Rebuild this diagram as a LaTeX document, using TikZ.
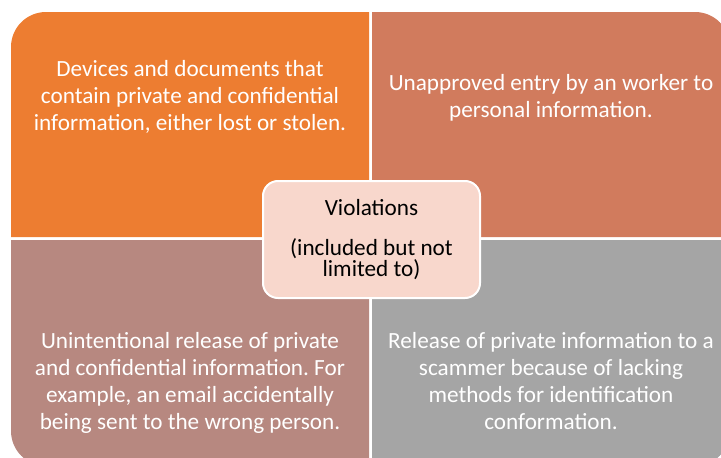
\documentclass[tikz,border=0pt]{standalone}
\usepackage{fontspec}
\setmainfont{Carlito}
\frenchspacing
\usetikzlibrary{positioning}
\definecolor{lostorange}{HTML}{ED7D31}
\definecolor{entrybrown}{HTML}{D17B5D}
\definecolor{releasemauve}{HTML}{B78880}
\definecolor{scammergrey}{HTML}{A5A5A5}
\definecolor{centrepink}{HTML}{F8D7CC}
\tikzset{
	% text in the four quadrants
	quadtext/.style={text=white,align=center,inner sep=0pt,anchor=north,
		font=\fontsize{23.2}{27}\selectfont},
	% the box in the middle
	centrebox/.style={fill=centrepink,draw=white,line width=2pt,rounded corners=15pt,
		minimum width=217pt,minimum height=117pt,align=center,inner sep=0pt,
		font=\fontsize{23.2}{20}\selectfont},
}
\begin{document}
\begin{tikzpicture}[x=1pt,y=1pt]
\useasboundingbox (0,0) rectangle (721,-458);
% the quadrants, each with its outer corner rounded
\fill[lostorange] (11,-237) -- (11,-47) arc[start angle=180,end angle=90,radius=35] -- (369,-12) -- (369,-237) -- cycle;
\fill[entrybrown] (372,-237) -- (372,-12) -- (695,-12) arc[start angle=90,end angle=0,radius=35] -- (730,-237) -- cycle;
\fill[releasemauve] (11,-240) -- (369,-240) -- (369,-466) -- (46,-466) arc[start angle=270,end angle=180,radius=35] -- cycle;
\fill[scammergrey] (372,-240) -- (730,-240) -- (730,-431) arc[start angle=0,end angle=-90,radius=35] -- (372,-466) -- cycle;
% the texts
\node[quadtext] (lost) at (190,-60) {Devices and documents that\\contain private and confidential\\information, either lost or stolen.};
\node[quadtext] (entry) at (551,-74) {Unapproved entry by an worker to\\personal information.};
\node[quadtext] (release) at (190,-332) {Unintentional release of private\\and confidential information. For\\example, an email accidentally\\being sent to the wrong person.};
\node[quadtext] (scammer) at (551,-332) {Release of private information to a\\scammer because of lacking\\methods for identification\\conformation.};
\node[centrebox] (violations) at (371.5,-239.5) {Violations\\[20pt](included but not\\limited to)};
\end{tikzpicture}
\end{document}
